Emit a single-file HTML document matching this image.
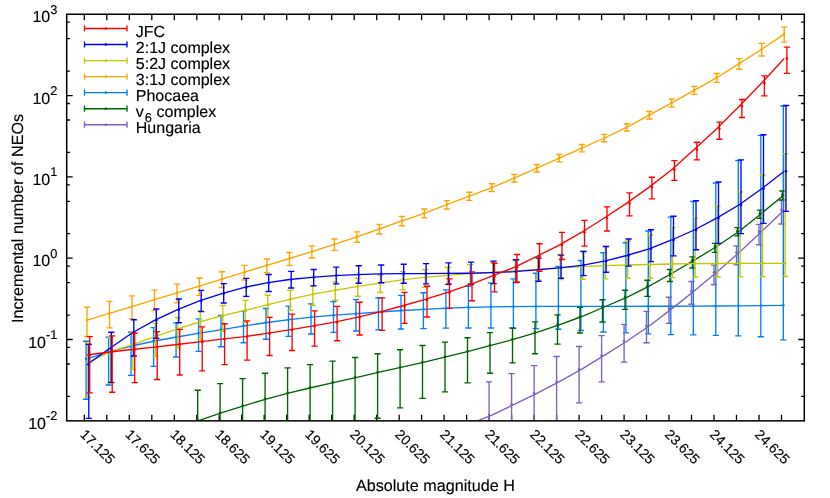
<!DOCTYPE html>
<html><head><meta charset="utf-8"><title>chart</title>
<style>html,body{margin:0;padding:0;background:#fff}svg{display:block;will-change:transform}text{font-family:"Liberation Sans",sans-serif;fill:#000;text-rendering:geometricPrecision;stroke:#000;stroke-width:0.15px}</style></head><body>
<svg width="830" height="498" viewBox="0 0 830 498">
<rect x="0" y="0" width="830" height="498" fill="#fff"/>
<defs><clipPath id="cp"><rect x="66.7" y="14.25" width="737.5999999999999" height="406.6"/></clipPath></defs>
<path d="M84.3 420.85v-6M84.3 14.25v6M106.8 420.85v-6M106.8 14.25v6M129.3 420.85v-6M129.3 14.25v6M151.8 420.85v-6M151.8 14.25v6M174.3 420.85v-6M174.3 14.25v6M196.8 420.85v-6M196.8 14.25v6M219.2 420.85v-6M219.2 14.25v6M241.7 420.85v-6M241.7 14.25v6M264.2 420.85v-6M264.2 14.25v6M286.7 420.85v-6M286.7 14.25v6M309.2 420.85v-6M309.2 14.25v6M331.7 420.85v-6M331.7 14.25v6M354.2 420.85v-6M354.2 14.25v6M376.7 420.85v-6M376.7 14.25v6M399.2 420.85v-6M399.2 14.25v6M421.6 420.85v-6M421.6 14.25v6M444.1 420.85v-6M444.1 14.25v6M466.6 420.85v-6M466.6 14.25v6M489.1 420.85v-6M489.1 14.25v6M511.6 420.85v-6M511.6 14.25v6M534.1 420.85v-6M534.1 14.25v6M556.6 420.85v-6M556.6 14.25v6M579.1 420.85v-6M579.1 14.25v6M601.6 420.85v-6M601.6 14.25v6M624.1 420.85v-6M624.1 14.25v6M646.5 420.85v-6M646.5 14.25v6M669.0 420.85v-6M669.0 14.25v6M691.5 420.85v-6M691.5 14.25v6M714.0 420.85v-6M714.0 14.25v6M736.5 420.85v-6M736.5 14.25v6M759.0 420.85v-6M759.0 14.25v6M781.5 420.85v-6M781.5 14.25v6M66.7 71.1h3.2M804.3 71.1h-3.2M66.7 38.7h3.2M804.3 38.7h-3.2M66.7 22.1h3.2M804.3 22.1h-3.2M66.7 95.6h6M804.3 95.6h-6M66.7 152.4h3.2M804.3 152.4h-3.2M66.7 120.0h3.2M804.3 120.0h-3.2M66.7 103.5h3.2M804.3 103.5h-3.2M66.7 176.9h6M804.3 176.9h-6M66.7 233.7h3.2M804.3 233.7h-3.2M66.7 201.4h3.2M804.3 201.4h-3.2M66.7 184.8h3.2M804.3 184.8h-3.2M66.7 258.2h6M804.3 258.2h-6M66.7 315.1h3.2M804.3 315.1h-3.2M66.7 282.7h3.2M804.3 282.7h-3.2M66.7 266.1h3.2M804.3 266.1h-3.2M66.7 339.5h6M804.3 339.5h-6M66.7 396.4h3.2M804.3 396.4h-3.2M66.7 364.0h3.2M804.3 364.0h-3.2M66.7 347.4h3.2M804.3 347.4h-3.2" stroke="#000" stroke-width="1.3" fill="none"/>
<g clip-path="url(#cp)" fill="none" stroke-linecap="butt">
<g stroke="#0080ff" stroke-width="1.35">
<polyline points="87.0,358.9 109.5,351.6 132.0,346.0 154.5,341.0 177.0,337.0 199.4,333.1 221.9,329.6 244.4,325.9 266.9,322.5 289.4,319.7 311.9,317.2 334.4,315.2 356.9,313.6 379.4,312.0 401.9,310.5 424.3,309.3 446.8,308.2 469.3,307.4 491.8,306.9 514.3,306.6 536.8,306.4 559.3,306.4 581.8,306.3 604.3,306.3 626.8,306.3 649.2,306.2 671.7,306.2 694.2,306.1 716.7,306.0 739.2,305.8 761.7,305.6 784.2,305.3"/>
<path d="M86.1 341.2V399.2M83.0 341.2H89.2M83.0 399.2H89.2M108.6 337.2V385.0M105.5 337.2H111.7M105.5 385.0H111.7M131.1 332.2V375.4M128.0 332.2H134.2M128.0 375.4H134.2M153.6 327.6V366.4M150.5 327.6H156.7M150.5 366.4H156.7M176.1 322.8V357.0M173.0 322.8H179.2M173.0 357.0H179.2M198.6 318.8V351.3M195.5 318.8H201.7M195.5 351.3H201.7M221.0 315.4V346.7M217.9 315.4H224.1M217.9 346.7H224.1M243.5 311.3V342.7M240.4 311.3H246.6M240.4 342.7H246.6M266.0 308.5V339.2M262.9 308.5H269.1M262.9 339.2H269.1M288.5 306.1V336.4M285.4 306.1H291.6M285.4 336.4H291.6M311.0 303.9V334.0M307.9 303.9H314.1M307.9 334.0H314.1M333.5 301.6V332.4M330.4 301.6H336.6M330.4 332.4H336.6M356.0 299.6V331.0M352.9 299.6H359.1M352.9 331.0H359.1M378.5 297.7V329.7M375.4 297.7H381.6M375.4 329.7H381.6M401.0 295.3V329.0M397.9 295.3H404.1M397.9 329.0H404.1M423.4 292.7V328.6M420.3 292.7H426.6M420.3 328.6H426.6M445.9 289.9V328.1M442.8 289.9H449.0M442.8 328.1H449.0M468.4 286.2V328.0M465.3 286.2H471.5M465.3 328.0H471.5M490.9 282.8V328.0M487.8 282.8H494.0M487.8 328.0H494.0M513.4 278.8V328.3M510.3 278.8H516.5M510.3 328.3H516.5M535.9 273.2V328.6M532.8 273.2H539.0M532.8 328.6H539.0M558.4 266.5V329.2M555.3 266.5H561.5M555.3 329.2H561.5M580.9 260.5V330.5M577.8 260.5H584.0M577.8 330.5H584.0M603.4 252.7V332.0M600.3 252.7H606.5M600.3 332.0H606.5M625.9 242.7V332.8M622.8 242.7H629.0M622.8 332.8H629.0M648.3 231.0V333.8M645.2 231.0H651.4M645.2 333.8H651.4M670.8 217.1V334.6M667.7 217.1H673.9M667.7 334.6H673.9M693.3 201.5V334.9M690.2 201.5H696.4M690.2 334.9H696.4M715.8 183.0V335.3M712.7 183.0H718.9M712.7 335.3H718.9M738.3 160.5V335.9M735.2 160.5H741.4M735.2 335.9H741.4M760.8 135.4V336.7M757.7 135.4H763.9M757.7 336.7H763.9M783.3 106.0V339.9M780.2 106.0H786.4M780.2 339.9H786.4"/>
<g fill="#0080ff" stroke="none"><circle cx="86.1" cy="358.9" r="1.3"/><circle cx="108.6" cy="351.6" r="1.3"/><circle cx="131.1" cy="346.0" r="1.3"/><circle cx="153.6" cy="341.0" r="1.3"/><circle cx="176.1" cy="337.0" r="1.3"/><circle cx="198.6" cy="333.1" r="1.3"/><circle cx="221.0" cy="329.6" r="1.3"/><circle cx="243.5" cy="325.9" r="1.3"/><circle cx="266.0" cy="322.5" r="1.3"/><circle cx="288.5" cy="319.7" r="1.3"/><circle cx="311.0" cy="317.2" r="1.3"/><circle cx="333.5" cy="315.2" r="1.3"/><circle cx="356.0" cy="313.6" r="1.3"/><circle cx="378.5" cy="312.0" r="1.3"/><circle cx="401.0" cy="310.5" r="1.3"/><circle cx="423.4" cy="309.3" r="1.3"/><circle cx="445.9" cy="308.2" r="1.3"/><circle cx="468.4" cy="307.4" r="1.3"/><circle cx="490.9" cy="306.9" r="1.3"/><circle cx="513.4" cy="306.6" r="1.3"/><circle cx="535.9" cy="306.4" r="1.3"/><circle cx="558.4" cy="306.4" r="1.3"/><circle cx="580.9" cy="306.3" r="1.3"/><circle cx="603.4" cy="306.3" r="1.3"/><circle cx="625.9" cy="306.3" r="1.3"/><circle cx="648.3" cy="306.2" r="1.3"/><circle cx="670.8" cy="306.2" r="1.3"/><circle cx="693.3" cy="306.1" r="1.3"/><circle cx="715.8" cy="306.0" r="1.3"/><circle cx="738.3" cy="305.8" r="1.3"/><circle cx="760.8" cy="305.6" r="1.3"/><circle cx="783.3" cy="305.3" r="1.3"/></g>
</g>
<g stroke="#8060c0" stroke-width="1.35">
<polyline points="469.3,424.2 491.8,415.1 514.3,404.4 536.8,393.3 559.3,381.7 581.8,369.2 604.3,355.4 626.8,341.3 649.2,326.0 671.7,308.9 694.2,291.1 716.7,272.2 739.2,252.5 761.7,231.6 784.2,209.9"/>
<path d="M489.1 381.8V440.0M486.0 381.8H492.2M486.0 440.0H492.2M511.6 373.6V440.0M508.5 373.6H514.7M508.5 440.0H514.7M534.1 365.6V440.0M531.0 365.6H537.2M531.0 440.0H537.2M556.6 356.5V440.0M553.5 356.5H559.7M553.5 440.0H559.7M579.1 346.5V402.9M576.0 346.5H582.2M576.0 402.9H582.2M601.6 335.6V381.8M598.5 335.6H604.7M598.5 381.8H604.7M624.1 324.4V362.1M621.0 324.4H627.2M621.0 362.1H627.2M646.5 311.3V342.7M643.4 311.3H649.6M643.4 342.7H649.6M669.0 297.2V323.3M665.9 297.2H672.1M665.9 323.3H672.1M691.5 281.5V304.2M688.4 281.5H694.6M688.4 304.2H694.6M714.0 265.1V284.7M710.9 265.1H717.1M710.9 284.7H717.1M736.5 245.9V264.9M733.4 245.9H739.6M733.4 264.9H739.6M759.0 224.4V244.7M755.9 224.4H762.1M755.9 244.7H762.1M781.5 200.5V224.0M778.4 200.5H784.6M778.4 224.0H784.6"/>
<g fill="#8060c0" stroke="none"><circle cx="489.1" cy="415.1" r="1.3"/><circle cx="511.6" cy="404.4" r="1.3"/><circle cx="534.1" cy="393.3" r="1.3"/><circle cx="556.6" cy="381.7" r="1.3"/><circle cx="579.1" cy="369.2" r="1.3"/><circle cx="601.6" cy="355.4" r="1.3"/><circle cx="624.1" cy="341.3" r="1.3"/><circle cx="646.5" cy="326.0" r="1.3"/><circle cx="669.0" cy="308.9" r="1.3"/><circle cx="691.5" cy="291.1" r="1.3"/><circle cx="714.0" cy="272.2" r="1.3"/><circle cx="736.5" cy="252.5" r="1.3"/><circle cx="759.0" cy="231.6" r="1.3"/><circle cx="781.5" cy="209.9" r="1.3"/></g>
</g>
<g stroke="#006400" stroke-width="1.35">
<polyline points="177.0,428.5 199.4,420.3 221.9,412.7 244.4,405.7 266.9,398.8 289.4,392.9 311.9,387.5 334.4,382.4 356.9,377.4 379.4,372.2 401.9,367.2 424.3,362.2 446.8,356.7 469.3,351.2 491.8,345.2 514.3,339.2 536.8,332.4 559.3,324.8 581.8,316.5 604.3,307.0 626.8,297.4 649.2,286.2 671.7,273.5 694.2,260.2 716.7,246.5 739.2,231.2 761.7,213.2 784.2,194.7"/>
<path d="M197.7 390.2V440.0M194.6 390.2H200.8M194.6 440.0H200.8M220.1 383.6V440.0M217.0 383.6H223.2M217.0 440.0H223.2M242.6 378.6V440.0M239.5 378.6H245.7M239.5 440.0H245.7M265.1 373.2V440.0M262.0 373.2H268.2M262.0 440.0H268.2M287.6 367.8V440.0M284.5 367.8H290.7M284.5 440.0H290.7M310.1 364.6V440.0M307.0 364.6H313.2M307.0 440.0H313.2M332.6 361.1V440.0M329.5 361.1H335.7M329.5 440.0H335.7M355.1 357.5V440.0M352.0 357.5H358.2M352.0 440.0H358.2M377.6 353.7V418.2M374.5 353.7H380.7M374.5 418.2H380.7M400.1 349.7V407.9M397.0 349.7H403.2M397.0 407.9H403.2M422.5 345.5V398.3M419.4 345.5H425.6M419.4 398.3H425.6M445.0 342.1V391.9M441.9 342.1H448.1M441.9 391.9H448.1M467.5 337.7V382.8M464.4 337.7H470.6M464.4 382.8H470.6M490.0 332.6V373.2M486.9 332.6H493.1M486.9 373.2H493.1M512.5 328.0V362.8M509.4 328.0H515.6M509.4 362.8H515.6M535.0 321.8V353.7M531.9 321.8H538.1M531.9 353.7H538.1M557.5 314.9V344.1M554.4 314.9H560.6M554.4 344.1H560.6M580.0 307.3V333.0M576.9 307.3H583.1M576.9 333.0H583.1M602.5 299.7V322.0M599.4 299.7H605.6M599.4 322.0H605.6M625.0 290.2V309.3M621.9 290.2H628.1M621.9 309.3H628.1M647.4 280.2V296.3M644.3 280.2H650.5M644.3 296.3H650.5M669.9 269.5V281.5M666.8 269.5H673.0M666.8 281.5H673.0M692.4 256.9V268.0M689.3 256.9H695.5M689.3 268.0H695.5M714.9 243.3V252.3M711.8 243.3H718.0M711.8 252.3H718.0M737.4 227.6V235.8M734.3 227.6H740.5M734.3 235.8H740.5M759.9 210.1V218.3M756.8 210.1H763.0M756.8 218.3H763.0M782.4 191.0V199.8M779.3 191.0H785.5M779.3 199.8H785.5"/>
<g fill="#006400" stroke="none"><circle cx="197.7" cy="420.3" r="1.3"/><circle cx="220.1" cy="412.7" r="1.3"/><circle cx="242.6" cy="405.7" r="1.3"/><circle cx="265.1" cy="398.8" r="1.3"/><circle cx="287.6" cy="392.9" r="1.3"/><circle cx="310.1" cy="387.5" r="1.3"/><circle cx="332.6" cy="382.4" r="1.3"/><circle cx="355.1" cy="377.4" r="1.3"/><circle cx="377.6" cy="372.2" r="1.3"/><circle cx="400.1" cy="367.2" r="1.3"/><circle cx="422.5" cy="362.2" r="1.3"/><circle cx="445.0" cy="356.7" r="1.3"/><circle cx="467.5" cy="351.2" r="1.3"/><circle cx="490.0" cy="345.2" r="1.3"/><circle cx="512.5" cy="339.2" r="1.3"/><circle cx="535.0" cy="332.4" r="1.3"/><circle cx="557.5" cy="324.8" r="1.3"/><circle cx="580.0" cy="316.5" r="1.3"/><circle cx="602.5" cy="307.0" r="1.3"/><circle cx="625.0" cy="297.4" r="1.3"/><circle cx="647.4" cy="286.2" r="1.3"/><circle cx="669.9" cy="273.5" r="1.3"/><circle cx="692.4" cy="260.2" r="1.3"/><circle cx="714.9" cy="246.5" r="1.3"/><circle cx="737.4" cy="231.2" r="1.3"/><circle cx="759.9" cy="213.2" r="1.3"/><circle cx="782.4" cy="194.7" r="1.3"/></g>
</g>
<g stroke="#c8c800" stroke-width="1.35">
<polyline points="87.0,362.9 109.5,352.2 132.0,344.9 154.5,336.9 177.0,329.1 199.4,322.0 221.9,315.9 244.4,310.5 266.9,304.9 289.4,299.4 311.9,294.4 334.4,290.4 356.9,286.6 379.4,283.1 401.9,279.9 424.3,277.4 446.8,275.3 469.3,273.7 491.8,272.3 514.3,270.8 536.8,269.3 559.3,267.9 581.8,266.6 604.3,265.7 626.8,265.0 649.2,264.5 671.7,264.0 694.2,263.7 716.7,263.5 739.2,263.4 761.7,263.4 784.2,263.4"/>
<path d="M87.9 343.5V397.2M84.8 343.5H91.0M84.8 397.2H91.0M110.4 337.5V383.2M107.3 337.5H113.5M107.3 383.2H113.5M132.9 332.2V369.4M129.8 332.2H136.0M129.8 369.4H136.0M155.4 323.1V356.4M152.3 323.1H158.5M152.3 356.4H158.5M177.9 317.7V348.1M174.8 317.7H181.0M174.8 348.1H181.0M200.3 310.7V339.8M197.2 310.7H203.4M197.2 339.8H203.4M222.8 305.5V331.2M219.7 305.5H225.9M219.7 331.2H225.9M245.3 300.3V322.3M242.2 300.3H248.4M242.2 322.3H248.4M267.8 295.2V317.3M264.7 295.2H270.9M264.7 317.3H270.9M290.3 290.2V310.3M287.2 290.2H293.4M287.2 310.3H293.4M312.8 285.8V305.3M309.7 285.8H315.9M309.7 305.3H315.9M335.3 281.8V300.2M332.2 281.8H338.4M332.2 300.2H338.4M357.8 278.2V296.2M354.7 278.2H360.9M354.7 296.2H360.9M380.3 275.0V292.5M377.2 275.0H383.4M377.2 292.5H383.4M402.8 271.6V289.9M399.7 271.6H405.9M399.7 289.9H405.9M425.2 269.6V287.2M422.1 269.6H428.4M422.1 287.2H428.4M447.7 267.2V284.6M444.6 267.2H450.8M444.6 284.6H450.8M470.2 264.6V284.2M467.1 264.6H473.3M467.1 284.2H473.3M492.7 262.1V283.2M489.6 262.1H495.8M489.6 283.2H495.8M515.2 260.5V281.8M512.1 260.5H518.3M512.1 281.8H518.3M537.7 257.5V279.6M534.6 257.5H540.8M534.6 279.6H540.8M560.2 254.5V279.6M557.1 254.5H563.3M557.1 279.6H563.3M582.7 251.1V279.2M579.6 251.1H585.8M579.6 279.2H585.8M605.2 246.5V278.8M602.1 246.5H608.3M602.1 278.8H608.3M627.7 241.0V278.2M624.6 241.0H630.8M624.6 278.2H630.8M650.1 235.0V278.0M647.0 235.0H653.2M647.0 278.0H653.2M672.6 227.6V277.6M669.5 227.6H675.7M669.5 277.6H675.7M695.1 217.8V277.2M692.0 217.8H698.2M692.0 277.2H698.2M717.6 206.1V277.0M714.5 206.1H720.7M714.5 277.0H720.7M740.1 192.0V276.8M737.0 192.0H743.2M737.0 276.8H743.2M762.6 174.7V276.6M759.5 174.7H765.7M759.5 276.6H765.7M785.1 153.6V276.5M782.0 153.6H788.2M782.0 276.5H788.2"/>
<g fill="#c8c800" stroke="none"><circle cx="87.9" cy="362.9" r="1.3"/><circle cx="110.4" cy="352.2" r="1.3"/><circle cx="132.9" cy="344.9" r="1.3"/><circle cx="155.4" cy="336.9" r="1.3"/><circle cx="177.9" cy="329.1" r="1.3"/><circle cx="200.3" cy="322.0" r="1.3"/><circle cx="222.8" cy="315.9" r="1.3"/><circle cx="245.3" cy="310.5" r="1.3"/><circle cx="267.8" cy="304.9" r="1.3"/><circle cx="290.3" cy="299.4" r="1.3"/><circle cx="312.8" cy="294.4" r="1.3"/><circle cx="335.3" cy="290.4" r="1.3"/><circle cx="357.8" cy="286.6" r="1.3"/><circle cx="380.3" cy="283.1" r="1.3"/><circle cx="402.8" cy="279.9" r="1.3"/><circle cx="425.2" cy="277.4" r="1.3"/><circle cx="447.7" cy="275.3" r="1.3"/><circle cx="470.2" cy="273.7" r="1.3"/><circle cx="492.7" cy="272.3" r="1.3"/><circle cx="515.2" cy="270.8" r="1.3"/><circle cx="537.7" cy="269.3" r="1.3"/><circle cx="560.2" cy="267.9" r="1.3"/><circle cx="582.7" cy="266.6" r="1.3"/><circle cx="605.2" cy="265.7" r="1.3"/><circle cx="627.7" cy="265.0" r="1.3"/><circle cx="650.1" cy="264.5" r="1.3"/><circle cx="672.6" cy="264.0" r="1.3"/><circle cx="695.1" cy="263.7" r="1.3"/><circle cx="717.6" cy="263.5" r="1.3"/><circle cx="740.1" cy="263.4" r="1.3"/><circle cx="762.6" cy="263.4" r="1.3"/><circle cx="785.1" cy="263.4" r="1.3"/></g>
</g>
<g stroke="#ffa500" stroke-width="1.35">
<polyline points="87.0,320.1 109.5,313.3 132.0,306.6 154.5,299.7 177.0,292.9 199.4,286.2 221.9,279.2 244.4,272.2 266.9,265.4 289.4,258.5 311.9,251.6 334.4,244.4 356.9,236.8 379.4,229.0 401.9,220.9 424.3,213.3 446.8,204.7 469.3,196.2 491.8,187.6 514.3,178.2 536.8,168.2 559.3,158.1 581.8,148.1 604.3,138.0 626.8,127.3 649.2,115.2 671.7,102.8 694.2,90.3 716.7,77.7 739.2,63.6 761.7,49.2 784.2,34.1"/>
<path d="M87.0 307.1V336.5M83.9 307.1H90.1M83.9 336.5H90.1M109.5 301.4V327.8M106.4 301.4H112.6M106.4 327.8H112.6M132.0 295.9V318.8M128.9 295.9H135.1M128.9 318.8H135.1M154.5 290.1V310.5M151.4 290.1H157.6M151.4 310.5H157.6M177.0 284.1V302.9M173.9 284.1H180.1M173.9 302.9H180.1M199.4 278.0V295.3M196.3 278.0H202.5M196.3 295.3H202.5M221.9 271.7V287.6M218.8 271.7H225.0M218.8 287.6H225.0M244.4 265.4V280.0M241.3 265.4H247.5M241.3 280.0H247.5M266.9 259.0V272.7M263.8 259.0H270.0M263.8 272.7H270.0M289.4 252.5V265.3M286.3 252.5H292.5M286.3 265.3H292.5M311.9 245.9V258.0M308.8 245.9H315.0M308.8 258.0H315.0M334.4 239.0V250.3M331.3 239.0H337.5M331.3 250.3H337.5M356.9 231.8V242.2M353.8 231.8H360.0M353.8 242.2H360.0M379.4 224.3V234.0M376.3 224.3H382.5M376.3 234.0H382.5M401.9 216.4V225.7M398.8 216.4H405.0M398.8 225.7H405.0M424.3 209.0V217.8M421.2 209.0H427.4M421.2 217.8H427.4M446.8 200.6V209.0M443.7 200.6H449.9M443.7 209.0H449.9M469.3 192.2V200.3M466.2 192.2H472.4M466.2 200.3H472.4M491.8 183.7V191.5M488.7 183.7H494.9M488.7 191.5H494.9M514.3 174.4V182.0M511.2 174.4H517.4M511.2 182.0H517.4M536.8 164.5V172.0M533.7 164.5H539.9M533.7 172.0H539.9M559.3 154.5V161.9M556.2 154.5H562.4M556.2 161.9H562.4M581.8 144.5V151.9M578.7 144.5H584.9M578.7 151.9H584.9M604.3 134.4V141.7M601.2 134.4H607.4M601.2 141.7H607.4M626.8 123.7V131.0M623.7 123.7H629.9M623.7 131.0H629.9M649.2 111.5V119.0M646.1 111.5H652.4M646.1 119.0H652.4M671.7 99.0V106.8M668.6 99.0H674.8M668.6 106.8H674.8M694.2 86.4V94.4M691.1 86.4H697.3M691.1 94.4H697.3M716.7 73.5V82.3M713.6 73.5H719.8M713.6 82.3H719.8M739.2 58.6V69.2M736.1 58.6H742.3M736.1 69.2H742.3M761.7 43.4V56.0M758.6 43.4H764.8M758.6 56.0H764.8M784.2 27.1V42.1M781.1 27.1H787.3M781.1 42.1H787.3"/>
<g fill="#ffa500" stroke="none"><circle cx="87.0" cy="320.1" r="1.3"/><circle cx="109.5" cy="313.3" r="1.3"/><circle cx="132.0" cy="306.6" r="1.3"/><circle cx="154.5" cy="299.7" r="1.3"/><circle cx="177.0" cy="292.9" r="1.3"/><circle cx="199.4" cy="286.2" r="1.3"/><circle cx="221.9" cy="279.2" r="1.3"/><circle cx="244.4" cy="272.2" r="1.3"/><circle cx="266.9" cy="265.4" r="1.3"/><circle cx="289.4" cy="258.5" r="1.3"/><circle cx="311.9" cy="251.6" r="1.3"/><circle cx="334.4" cy="244.4" r="1.3"/><circle cx="356.9" cy="236.8" r="1.3"/><circle cx="379.4" cy="229.0" r="1.3"/><circle cx="401.9" cy="220.9" r="1.3"/><circle cx="424.3" cy="213.3" r="1.3"/><circle cx="446.8" cy="204.7" r="1.3"/><circle cx="469.3" cy="196.2" r="1.3"/><circle cx="491.8" cy="187.6" r="1.3"/><circle cx="514.3" cy="178.2" r="1.3"/><circle cx="536.8" cy="168.2" r="1.3"/><circle cx="559.3" cy="158.1" r="1.3"/><circle cx="581.8" cy="148.1" r="1.3"/><circle cx="604.3" cy="138.0" r="1.3"/><circle cx="626.8" cy="127.3" r="1.3"/><circle cx="649.2" cy="115.2" r="1.3"/><circle cx="671.7" cy="102.8" r="1.3"/><circle cx="694.2" cy="90.3" r="1.3"/><circle cx="716.7" cy="77.7" r="1.3"/><circle cx="739.2" cy="63.6" r="1.3"/><circle cx="761.7" cy="49.2" r="1.3"/><circle cx="784.2" cy="34.1" r="1.3"/></g>
</g>
<g stroke="#0000ff" stroke-width="1.35">
<polyline points="87.0,364.8 109.5,348.5 132.0,333.0 154.5,320.3 177.0,309.8 199.4,300.8 221.9,293.6 244.4,287.4 266.9,282.8 289.4,279.5 311.9,277.3 334.4,275.6 356.9,274.6 379.4,273.9 401.9,273.6 424.3,273.6 446.8,273.4 469.3,273.2 491.8,272.6 514.3,271.7 536.8,269.8 559.3,267.8 581.8,265.3 604.3,261.1 626.8,255.5 649.2,248.8 671.7,240.0 694.2,230.0 716.7,218.1 739.2,204.8 761.7,188.8 784.2,171.2"/>
<path d="M88.8 344.3V418.3M85.7 344.3H91.9M85.7 418.3H91.9M111.3 332.2V382.3M108.2 332.2H114.4M108.2 382.3H114.4M133.8 319.7V356.0M130.7 319.7H136.9M130.7 356.0H136.9M156.3 309.0V338.2M153.2 309.0H159.4M153.2 338.2H159.4M178.8 299.0V322.7M175.7 299.0H181.9M175.7 322.7H181.9M201.2 290.4V311.6M198.2 290.4H204.3M198.2 311.6H204.3M223.7 283.6V303.0M220.6 283.6H226.8M220.6 303.0H226.8M246.2 278.4V296.4M243.1 278.4H249.3M243.1 296.4H249.3M268.7 274.5V291.5M265.6 274.5H271.8M265.6 291.5H271.8M291.2 271.3V288.0M288.1 271.3H294.3M288.1 288.0H294.3M313.7 269.5V285.8M310.6 269.5H316.8M310.6 285.8H316.8M336.2 267.1V283.8M333.1 267.1H339.3M333.1 283.8H339.3M358.7 265.7V283.2M355.6 265.7H361.8M355.6 283.2H361.8M381.2 265.0V282.7M378.1 265.0H384.3M378.1 282.7H384.3M403.7 264.2V283.2M400.6 264.2H406.8M400.6 283.2H406.8M426.1 263.6V283.8M423.0 263.6H429.2M423.0 283.8H429.2M448.6 262.8V284.2M445.5 262.8H451.7M445.5 284.2H451.7M471.1 262.1V284.2M468.0 262.1H474.2M468.0 284.2H474.2M493.6 261.1V283.6M490.5 261.1H496.7M490.5 283.6H496.7M516.1 259.7V282.6M513.0 259.7H519.2M513.0 282.6H519.2M538.6 258.1V281.2M535.5 258.1H541.7M535.5 281.2H541.7M561.1 255.1V278.2M558.0 255.1H564.2M558.0 278.2H564.2M583.6 251.5V275.6M580.5 251.5H586.7M580.5 275.6H586.7M606.1 246.5V272.2M603.0 246.5H609.2M603.0 272.2H609.2M628.6 239.0V266.1M625.5 239.0H631.7M625.5 266.1H631.7M651.0 229.7V261.6M647.9 229.7H654.1M647.9 261.6H654.1M673.5 216.2V255.8M670.4 216.2H676.6M670.4 255.8H676.6M696.0 200.7V249.7M692.9 200.7H699.1M692.9 249.7H699.1M718.5 182.0V243.3M715.4 182.0H721.6M715.4 243.3H721.6M741.0 159.8V233.6M737.9 159.8H744.1M737.9 233.6H744.1M763.5 134.7V223.4M760.4 134.7H766.6M760.4 223.4H766.6M786.0 105.5V211.3M782.9 105.5H789.1M782.9 211.3H789.1"/>
<g fill="#0000ff" stroke="none"><circle cx="88.8" cy="364.8" r="1.3"/><circle cx="111.3" cy="348.5" r="1.3"/><circle cx="133.8" cy="333.0" r="1.3"/><circle cx="156.3" cy="320.3" r="1.3"/><circle cx="178.8" cy="309.8" r="1.3"/><circle cx="201.2" cy="300.8" r="1.3"/><circle cx="223.7" cy="293.6" r="1.3"/><circle cx="246.2" cy="287.4" r="1.3"/><circle cx="268.7" cy="282.8" r="1.3"/><circle cx="291.2" cy="279.5" r="1.3"/><circle cx="313.7" cy="277.3" r="1.3"/><circle cx="336.2" cy="275.6" r="1.3"/><circle cx="358.7" cy="274.6" r="1.3"/><circle cx="381.2" cy="273.9" r="1.3"/><circle cx="403.7" cy="273.6" r="1.3"/><circle cx="426.1" cy="273.6" r="1.3"/><circle cx="448.6" cy="273.4" r="1.3"/><circle cx="471.1" cy="273.2" r="1.3"/><circle cx="493.6" cy="272.6" r="1.3"/><circle cx="516.1" cy="271.7" r="1.3"/><circle cx="538.6" cy="269.8" r="1.3"/><circle cx="561.1" cy="267.8" r="1.3"/><circle cx="583.6" cy="265.3" r="1.3"/><circle cx="606.1" cy="261.1" r="1.3"/><circle cx="628.6" cy="255.5" r="1.3"/><circle cx="651.0" cy="248.8" r="1.3"/><circle cx="673.5" cy="240.0" r="1.3"/><circle cx="696.0" cy="230.0" r="1.3"/><circle cx="718.5" cy="218.1" r="1.3"/><circle cx="741.0" cy="204.8" r="1.3"/><circle cx="763.5" cy="188.8" r="1.3"/><circle cx="786.0" cy="171.2" r="1.3"/></g>
</g>
<g stroke="#ff0000" stroke-width="1.35">
<polyline points="87.0,355.0 109.5,352.0 132.0,349.5 154.5,347.1 177.0,344.5 199.4,341.9 221.9,339.1 244.4,336.7 266.9,333.4 289.4,329.8 311.9,326.1 334.4,322.2 356.9,317.3 379.4,312.1 401.9,306.0 424.3,299.7 446.8,292.7 469.3,284.8 491.8,276.2 514.3,267.3 536.8,256.3 559.3,245.1 581.8,232.2 604.3,218.0 626.8,203.1 649.2,187.1 671.7,169.8 694.2,149.6 716.7,128.8 739.2,106.3 761.7,83.0 784.2,58.5"/>
<path d="M89.7 336.6V392.8M86.6 336.6H92.8M86.6 392.8H92.8M112.2 335.8V392.2M109.1 335.8H115.3M109.1 392.2H115.3M134.7 333.2V382.6M131.6 333.2H137.8M131.6 382.6H137.8M157.2 331.6V379.5M154.1 331.6H160.3M154.1 379.5H160.3M179.7 329.4V375.0M176.6 329.4H182.8M176.6 375.0H182.8M202.2 326.9V370.8M199.1 326.9H205.2M199.1 370.8H205.2M224.6 323.7V364.6M221.5 323.7H227.7M221.5 364.6H227.7M247.1 320.9V360.1M244.0 320.9H250.2M244.0 360.1H250.2M269.6 317.3V355.5M266.5 317.3H272.7M266.5 355.5H272.7M292.1 314.1V350.5M289.0 314.1H295.2M289.0 350.5H295.2M314.6 310.9V346.1M311.5 310.9H317.7M311.5 346.1H317.7M337.1 306.3V340.7M334.0 306.3H340.2M334.0 340.7H340.2M359.6 302.2V335.0M356.5 302.2H362.7M356.5 335.0H362.7M382.1 297.8V330.4M379.0 297.8H385.2M379.0 330.4H385.2M404.6 292.3V323.4M401.5 292.3H407.7M401.5 323.4H407.7M427.0 286.2V317.0M423.9 286.2H430.1M423.9 317.0H430.1M449.5 278.8V308.3M446.4 278.8H452.6M446.4 308.3H452.6M472.0 271.8V300.7M468.9 271.8H475.1M468.9 300.7H475.1M494.5 263.2V291.9M491.4 263.2H497.6M491.4 291.9H497.6M517.0 254.5V282.2M513.9 254.5H520.1M513.9 282.2H520.1M539.5 243.7V271.2M536.4 243.7H542.6M536.4 271.2H542.6M562.0 232.4V259.5M558.9 232.4H565.1M558.9 259.5H565.1M584.5 220.4V246.1M581.4 220.4H587.6M581.4 246.1H587.6M607.0 206.9V231.0M603.9 206.9H610.1M603.9 231.0H610.1M629.5 192.9V215.9M626.4 192.9H632.6M626.4 215.9H632.6M651.9 177.2V198.9M648.8 177.2H655.0M648.8 198.9H655.0M674.4 160.6V180.3M671.3 160.6H677.5M671.3 180.3H677.5M696.9 142.2V159.8M693.8 142.2H700.0M693.8 159.8H700.0M719.4 122.1V139.2M716.3 122.1H722.5M716.3 139.2H722.5M741.9 99.5V117.5M738.8 99.5H745.0M738.8 117.5H745.0M764.4 75.9V95.9M761.3 75.9H767.5M761.3 95.9H767.5M786.9 47.1V73.3M783.8 47.1H790.0M783.8 73.3H790.0"/>
<g fill="#ff0000" stroke="none"><circle cx="89.7" cy="355.0" r="1.3"/><circle cx="112.2" cy="352.0" r="1.3"/><circle cx="134.7" cy="349.5" r="1.3"/><circle cx="157.2" cy="347.1" r="1.3"/><circle cx="179.7" cy="344.5" r="1.3"/><circle cx="202.2" cy="341.9" r="1.3"/><circle cx="224.6" cy="339.1" r="1.3"/><circle cx="247.1" cy="336.7" r="1.3"/><circle cx="269.6" cy="333.4" r="1.3"/><circle cx="292.1" cy="329.8" r="1.3"/><circle cx="314.6" cy="326.1" r="1.3"/><circle cx="337.1" cy="322.2" r="1.3"/><circle cx="359.6" cy="317.3" r="1.3"/><circle cx="382.1" cy="312.1" r="1.3"/><circle cx="404.6" cy="306.0" r="1.3"/><circle cx="427.0" cy="299.7" r="1.3"/><circle cx="449.5" cy="292.7" r="1.3"/><circle cx="472.0" cy="284.8" r="1.3"/><circle cx="494.5" cy="276.2" r="1.3"/><circle cx="517.0" cy="267.3" r="1.3"/><circle cx="539.5" cy="256.3" r="1.3"/><circle cx="562.0" cy="245.1" r="1.3"/><circle cx="584.5" cy="232.2" r="1.3"/><circle cx="607.0" cy="218.0" r="1.3"/><circle cx="629.5" cy="203.1" r="1.3"/><circle cx="651.9" cy="187.1" r="1.3"/><circle cx="674.4" cy="169.8" r="1.3"/><circle cx="696.9" cy="149.6" r="1.3"/><circle cx="719.4" cy="128.8" r="1.3"/><circle cx="741.9" cy="106.3" r="1.3"/><circle cx="764.4" cy="83.0" r="1.3"/><circle cx="786.9" cy="58.5" r="1.3"/></g>
</g>
</g>
<rect x="66.7" y="14.25" width="737.5999999999999" height="406.6" fill="none" stroke="#000" stroke-width="1.5"/>
<text x="57.4" y="22.2" text-anchor="end" font-size="16"><tspan>10</tspan><tspan font-size="12.8" dy="-8.6">3</tspan></text>
<text x="57.4" y="103.6" text-anchor="end" font-size="16"><tspan>10</tspan><tspan font-size="12.8" dy="-8.6">2</tspan></text>
<text x="57.4" y="184.9" text-anchor="end" font-size="16"><tspan>10</tspan><tspan font-size="12.8" dy="-8.6">1</tspan></text>
<text x="57.4" y="266.2" text-anchor="end" font-size="16"><tspan>10</tspan><tspan font-size="12.8" dy="-8.6">0</tspan></text>
<text x="57.4" y="347.5" text-anchor="end" font-size="16"><tspan>10</tspan><tspan font-size="12.8" dy="-8.6">-1</tspan></text>
<text x="57.4" y="428.9" text-anchor="end" font-size="16"><tspan>10</tspan><tspan font-size="12.8" dy="-8.6">-2</tspan></text>
<text transform="translate(79.4,435.2) rotate(45)" font-size="13.8">17.125</text>
<text transform="translate(124.4,435.2) rotate(45)" font-size="13.8">17.625</text>
<text transform="translate(169.4,435.2) rotate(45)" font-size="13.8">18.125</text>
<text transform="translate(214.3,435.2) rotate(45)" font-size="13.8">18.625</text>
<text transform="translate(259.3,435.2) rotate(45)" font-size="13.8">19.125</text>
<text transform="translate(304.3,435.2) rotate(45)" font-size="13.8">19.625</text>
<text transform="translate(349.3,435.2) rotate(45)" font-size="13.8">20.125</text>
<text transform="translate(394.3,435.2) rotate(45)" font-size="13.8">20.625</text>
<text transform="translate(439.2,435.2) rotate(45)" font-size="13.8">21.125</text>
<text transform="translate(484.2,435.2) rotate(45)" font-size="13.8">21.625</text>
<text transform="translate(529.2,435.2) rotate(45)" font-size="13.8">22.125</text>
<text transform="translate(574.2,435.2) rotate(45)" font-size="13.8">22.625</text>
<text transform="translate(619.2,435.2) rotate(45)" font-size="13.8">23.125</text>
<text transform="translate(664.1,435.2) rotate(45)" font-size="13.8">23.625</text>
<text transform="translate(709.1,435.2) rotate(45)" font-size="13.8">24.125</text>
<text transform="translate(754.1,435.2) rotate(45)" font-size="13.8">24.625</text>
<text x="435.4" y="490.6" text-anchor="middle" font-size="16.15">Absolute magnitude H</text>
<text transform="translate(22.6,218.4) rotate(-90)" text-anchor="middle" font-size="16.15">Incremental number of NEOs</text>
<path d="M84.5 28.5H127.0M84.5 25.4v6.2M127.0 25.4v6.2" stroke="#ff0000" stroke-width="1.35" fill="none"/><circle cx="105.8" cy="28.5" r="1.3" fill="#ff0000"/>
<text x="135.8" y="36.6" font-size="16">JFC</text>
<path d="M84.5 44.5H127.0M84.5 41.4v6.2M127.0 41.4v6.2" stroke="#0000ff" stroke-width="1.35" fill="none"/><circle cx="105.8" cy="44.5" r="1.3" fill="#0000ff"/>
<text x="135.8" y="52.6" font-size="16">2:1J complex</text>
<path d="M84.5 60.6H127.0M84.5 57.5v6.2M127.0 57.5v6.2" stroke="#c8c800" stroke-width="1.35" fill="none"/><circle cx="105.8" cy="60.6" r="1.3" fill="#c8c800"/>
<text x="135.8" y="68.7" font-size="16">5:2J complex</text>
<path d="M84.5 76.6H127.0M84.5 73.5v6.2M127.0 73.5v6.2" stroke="#ffa500" stroke-width="1.35" fill="none"/><circle cx="105.8" cy="76.6" r="1.3" fill="#ffa500"/>
<text x="135.8" y="84.7" font-size="16">3:1J complex</text>
<path d="M84.5 92.6H127.0M84.5 89.5v6.2M127.0 89.5v6.2" stroke="#0080ff" stroke-width="1.35" fill="none"/><circle cx="105.8" cy="92.6" r="1.3" fill="#0080ff"/>
<text x="135.8" y="100.7" font-size="16">Phocaea</text>
<path d="M84.5 108.7H127.0M84.5 105.6v6.2M127.0 105.6v6.2" stroke="#006400" stroke-width="1.35" fill="none"/><circle cx="105.8" cy="108.7" r="1.3" fill="#006400"/>
<text x="135.8" y="116.8" font-size="16"><tspan>v</tspan><tspan font-size="12.8" dx="0.9" dy="5.1">6</tspan><tspan font-size="16" dx="0.3" dy="-5.1"> complex</tspan></text>
<path d="M84.5 124.7H127.0M84.5 121.6v6.2M127.0 121.6v6.2" stroke="#8060c0" stroke-width="1.35" fill="none"/><circle cx="105.8" cy="124.7" r="1.3" fill="#8060c0"/>
<text x="135.8" y="132.8" font-size="16">Hungaria</text>
</svg></body></html>
